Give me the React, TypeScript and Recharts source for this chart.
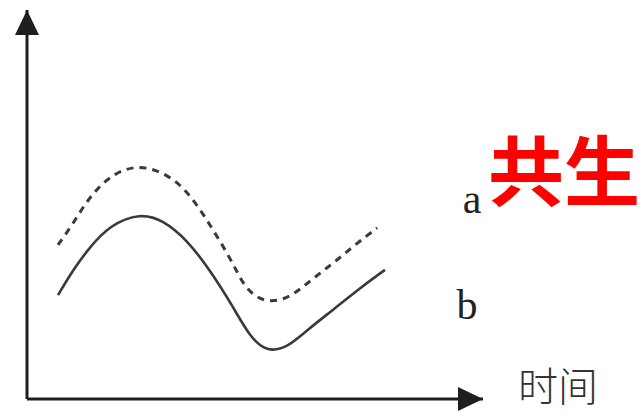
import React from "react";
import { LineChart, Line, XAxis, YAxis } from "recharts";

// Time runs 0..100 along the horizontal axis; the vertical axis is an arbitrary 0..100 scale.
const timeA = [6.8, 9.9, 12.3, 15.4, 19.3, 23.7, 28.1, 32.5, 35.7, 38.6, 41.2, 43.9, 46.1, 48.2, 52.2, 57.0, 60.5, 64.3, 68.0, 71.9, 76.8];
const valuesA = [39.6, 44.7, 49.4, 54.2, 58.1, 59.9, 59.1, 56.3, 52.4, 47.6, 42.7, 37.5, 32.6, 28.0, 24.7, 25.7, 28.8, 32.4, 35.7, 39.6, 44.0];

const timeB = [6.8, 10.1, 13.8, 18.2, 24.8, 29.8, 35.1, 40.1, 45.2, 48.9, 52.6, 57.0, 61.4, 67.1, 73.0, 78.5];
const valuesB = [26.7, 33.2, 39.1, 44.7, 47.8, 46.0, 40.9, 33.2, 23.7, 15.9, 12.1, 13.1, 17.7, 22.9, 28.5, 33.2];

const seriesA = timeA.map((t, i) => ({ t, v: valuesA[i] }));
const seriesB = timeB.map((t, i) => ({ t, v: valuesB[i] }));

const AXIS_COLOR = "#1e1e1e";
const LINE_COLOR = "#3a3a3a";
const SERIF = "'Liberation Serif', 'DejaVu Serif', serif";

export default function App() {
  return (
    <div style={{ position: "absolute", left: 0, top: 0, background: "#fff" }}>
      <LineChart
        width={640}
        height={412}
        margin={{ top: 10, right: 157, bottom: 12, left: 26 }}
      >
        <defs>
          <marker
            id="arrowHead"
            markerUnits="userSpaceOnUse"
            markerWidth={26}
            markerHeight={26}
            refX={25}
            refY={12}
            orient="auto-start-reverse"
          >
            <path d="M0,0 L25,12 L0,24 Z" fill={AXIS_COLOR} />
          </marker>
        </defs>
        <XAxis
          dataKey="t"
          type="number"
          domain={[0, 100]}
          height={1}
          tick={false}
          tickLine={false}
          axisLine={{ stroke: AXIS_COLOR, strokeWidth: 3, markerEnd: "url(#arrowHead)" }}
        />
        <YAxis
          dataKey="v"
          type="number"
          domain={[0, 100]}
          width={1}
          tick={false}
          tickLine={false}
          axisLine={{ stroke: AXIS_COLOR, strokeWidth: 3, markerStart: "url(#arrowHead)" }}
        />
        <Line
          data={seriesA}
          dataKey="v"
          type="basis"
          stroke={LINE_COLOR}
          strokeWidth={3}
          strokeDasharray="7 6"
          dot={false}
          isAnimationActive={false}
        />
        <Line
          data={seriesB}
          dataKey="v"
          type="basis"
          stroke={LINE_COLOR}
          strokeWidth={2.6}
          dot={false}
          isAnimationActive={false}
        />
        <text x={472} y={213} textAnchor="middle" fontFamily={SERIF} fontSize={42} fill="#222">a</text>
        <text x={467} y={319} textAnchor="middle" fontFamily={SERIF} fontSize={42} fill="#222">b</text>
        <text x={488} y={200} fontFamily="'Noto Sans CJK SC', sans-serif" fontWeight="bold" fontSize={76} fill="#ff0000">共生</text>
        <text x={518} y={401} fontFamily="'Noto Sans CJK SC', sans-serif" fontWeight={300} fontSize={40} fill="#333">时间</text>
      </LineChart>
    </div>
  );
}
